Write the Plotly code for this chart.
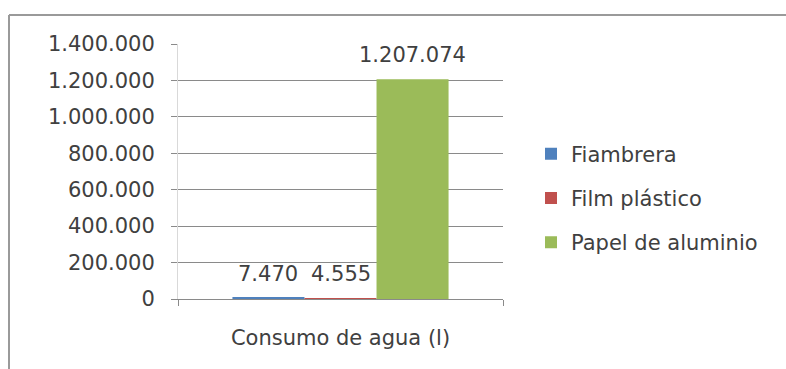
import plotly.graph_objects as go

# Water consumption per wrapping option
categories = ["Consumo de agua (l)"]
series_names = ["Fiambrera", "Film plástico", "Papel de aluminio"]
series_values = [[7470], [4555], [1207074]]
series_colors = ["#4F81BD", "#C0504D", "#9BBB59"]
y_ticks = [0, 200000, 400000, 600000, 800000, 1000000, 1200000, 1400000]

W, H = 786, 369
ML, MR, MT, MB = 178, 283, 44, 70
BARGAP = 0.335
plot_w = W - ML - MR
plot_h = H - MT - MB
bar_px = plot_w * (1 - BARGAP) / len(series_names)

FONT = "DejaVu Sans"
FS = 21
TXT = "#404040"
GRID = "#8a8a8a"


def fmt(v):
    return f"{v:,}".replace(",", ".")


fig = go.Figure()
for i, (name, vals, col) in enumerate(zip(series_names, series_values, series_colors)):
    fig.add_trace(go.Bar(
        name=name, x=categories, y=vals,
        marker=dict(color=col, line=dict(width=0)),
        legendgroup=name,
    ))
    for c, v in zip(categories, vals):
        fig.add_annotation(
            x=c, y=v, text=fmt(v), showarrow=False,
            xanchor="center", yanchor="bottom",
            xshift=(i - (len(series_names) - 1) / 2) * bar_px,
            yshift=10,
            font=dict(family=FONT, size=FS, color=TXT),
        )

# chart frame: only the top and left edges fall inside the page
frame_left = (9 - ML) / plot_w
frame_top = (H - MB - 15) / plot_h
frame_shapes = [
    dict(type="line", xref="paper", yref="paper",
         x0=frame_left, x1=(W + 40 - ML) / plot_w, y0=frame_top, y1=frame_top,
         line=dict(color="#9a9a9a", width=2), layer="below"),
    dict(type="line", xref="paper", yref="paper",
         x0=frame_left, x1=frame_left, y0=frame_top, y1=-(MB + 40) / plot_h,
         line=dict(color="#9a9a9a", width=2), layer="below"),
]

fig.update_layout(
    width=W, height=H,
    margin=dict(l=ML, r=MR, t=MT, b=MB, pad=0),
    paper_bgcolor="white", plot_bgcolor="white",
    separators=",.",
    barmode="group", bargap=BARGAP, bargroupgap=0,
    font=dict(family=FONT, size=FS, color=TXT),
    showlegend=True,
    legend=dict(
        x=(531 - ML) / plot_w, xanchor="left",
        y=(H - MB - 198) / plot_h, yanchor="middle",
        font=dict(family=FONT, size=FS, color=TXT),
        tracegroupgap=14, traceorder="grouped",
        bgcolor="rgba(0,0,0,0)",
    ),
    xaxis=dict(
        showline=True, linecolor=GRID, linewidth=1,
        ticks="outside", tickson="boundaries", ticklen=6, tickcolor=GRID,
        showgrid=False, ticklabelstandoff=20,
        tickfont=dict(family=FONT, size=FS, color=TXT),
    ),
    yaxis=dict(
        range=[0, 1400000], tickvals=y_ticks, tickformat=",d",
        showgrid=True, gridcolor=GRID, gridwidth=1,
        showline=True, linecolor="#d9d9d9", linewidth=1,
        ticks="outside", ticklen=6, tickcolor=GRID,
        ticklabelstandoff=12, zeroline=False,
        tickfont=dict(family=FONT, size=FS, color=TXT),
    ),
    shapes=frame_shapes,
)

fig.write_html("out.html", config={"displayModeBar": False})
